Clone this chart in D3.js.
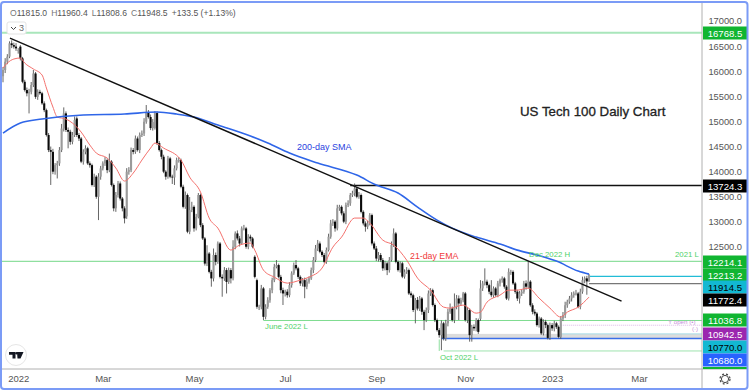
<!DOCTYPE html>
<html>
<head>
<meta charset="utf-8">
<script src="https://cdn.jsdelivr.net/npm/d3@7"></script>
<style>
  html, body { margin: 0; padding: 0; background: #fff; }
  svg { display: block; font-family: "Liberation Sans", sans-serif; }
  .tick line, .domain { display: none; }
</style>
</head>
<body>
<svg id="chart"></svg>
<script>
const width = 750;
const height = 390;

// Daily candles
const closes = [
  16024,16190,16290,16555,16520,16490,16455,16420,16255,15790,
  15625,15560,15590,15725,15955,15490,15590,15560,15360,15225,
  14730,14430,14395,14000,14130,14165,14430,14860,15160,14830,
  14795,14595,14730,15030,14730,14660,14200,14395,14465,14165,
  14130,13735,13900,13500,13900,14065,14165,14230,14030,14200,
  13735,13270,13535,13765,13465,13270,13070,14000,14030,14430,
  14395,14660,14430,14730,14760,14995,15187,15088,14868,14988,
  15167,14570,14430,14297,14000,13900,14264,13900,13885,14065,
  14230,14230,13700,13300,13535,12805,13235,13300,12870,13100,
  13535,12935,12670,12170,12370,12005,11875,12340,12205,12570,
  11905,11875,12040,11805,12040,11875,12505,12770,12670,12570,
  12870,12870,12505,12705,12670,12505,11905,11310,11310,11675,
  11110,11310,11440,11640,11840,12105,12140,11905,11640,11575,
  11610,11540,11740,11975,12140,12075,11905,11775,11840,11710,
  11810,11875,12040,12240,12470,12570,12405,12340,12205,12440,
  12705,12970,13005,12870,13270,13300,13170,13005,13335,13370,
  13535,13570,13665,13500,13535,13200,12970,12905,12970,13135,
  12570,12470,12270,12340,12240,12075,12175,12040,12240,12540,
  12770,12205,12040,12175,11910,12005,12040,11575,11540,11245,
  11445,11275,11475,11210,11045,11245,11575,11640,11345,11045,
  10845,10745,10980,10680,10980,11210,11275,11045,11310,11475,
  11375,11440,11575,11045,11245,10745,10910,10880,11045,10810,
  11675,11775,11810,11740,11610,11540,11675,11540,11775,11840,
  11875,11710,11475,12005,12005,11775,11610,11475,11575,11610,
  11775,11710,11810,11340,11210,11175,10945,11075,10780,11010,
  10945,10690,10945,10880,10980,10910,10710,11075,11145,11340,
  11410,11475,11540,11575,11575,11310,11610,11840,11875,11815,
  11948.5
];
const opens = [
  15900,16024,16190,16290,16555,16520,16490,16420,16490,16255,
  15790,15625,15560,15590,15725,15955,15490,15590,15560,15360,
  15225,14730,14430,14395,14000,14130,14165,14430,14860,15160,
  14830,14795,14595,14730,15060,14730,14660,14200,14395,14465,
  14165,14130,13735,13900,13500,13900,14065,14165,14230,14030,
  14200,13735,13270,13535,13765,13465,13270,13110,14000,14030,
  14430,14395,14660,14430,14730,14760,14995,15187,15088,14868,
  14868,15167,14570,14430,14297,14000,13900,14264,13900,13885,
  14065,14230,14230,13700,13300,13535,12805,13235,13300,12870,
  13100,13535,12935,12670,12170,12370,12005,11875,12340,12205,
  12570,11905,11875,12040,11805,12040,11875,12505,12770,12670,
  12570,12870,12870,12505,12705,12670,12305,11840,11310,11310,
  11675,11110,11310,11440,11640,11840,12105,12140,11905,11640,
  11575,11610,11540,11740,11975,12140,12075,11905,11775,11840,
  11710,11810,11875,12040,12240,12470,12570,12405,12340,12205,
  12440,12705,12970,13005,12870,13270,13300,13170,13005,13335,
  13370,13535,13570,13665,13500,13535,13200,12970,12905,12970,
  13135,12570,12470,12270,12340,12240,12075,12175,12040,12240,
  12540,12770,12205,12040,12175,11910,12005,12040,11575,11540,
  11245,11445,11275,11475,11210,11045,11245,11575,11640,11345,
  11045,10845,10745,10980,10680,10980,11210,11275,11045,11310,
  11475,11375,11440,11575,11045,11245,10745,10910,10880,11045,
  11070,11675,11775,11810,11740,11610,11540,11675,11540,11775,
  11840,11875,11710,11475,12005,12005,11775,11610,11475,11575,
  11610,11775,11710,11810,11340,11210,11175,10945,11075,10780,
  11010,10945,10690,10945,10880,10980,10910,10710,11075,11145,
  11340,11410,11475,11540,11575,11575,11310,11610,11840,11875,
  11815
];
const upperWicks = [
  60,70,50,40,60,50,70,40,30,30, 40,50,60,60,70,30,50,40,30,40,
  30,40,70,60,40,50,60,90,120,40, 50,40,60,70,40,40,30,50,60,30,
  40,30,60,30,70,50,40,60,30,160, 30,30,60,50,40,30,40,70,60,50,
  40,60,40,50,60,70,140,40,50,60, 40,30,40,30,40,30,50,30,40,60,
  50,60,30,40,70,30,260,100,30,60, 40,30,40,30,165,30,40,130,50,40,
  30,50,60,40,50,40,130,40,60,50, 40,70,30,50,40,30,30,30,40,70,
  30,50,60,40,50,60,100,30,40,50, 40,50,60,40,50,100,30,30,40,50,
  60,40,50,60,70,70,40,30,40,50, 60,70,50,30,70,40,30,40,50,60,
  40,50,100,30,60,30,30,40,50,40, 30,40,50,60,40,40,50,30,60,70,
  100,30,30,40,30,50,60,30,40,30, 40,60,50,30,40,50,60,40,30,30,
  30,40,60,30,70,60,100,40,265,70, 60,50,30,30,60,30,40,50,40,30,
  165,50,265,40,30,230,40,30,50,30, 40,30,30,70,40,30,30,40,50,40,
  50,60,405,30,40,50,30,40,30,50, 40,30,50,40,50,30,30,50,60,70,
  40,50,60,40,70,30,60,70,40,50, 12
];
const lowerWicks = [
  120,60,50,30,60,40,50,70,40,30, 30,60,400,50,40,40,60,30,30,40,
  30,40,660,50,60,265,50,40,60,40, 330,60,50,40,40,50,30,60,50,30,
  50,30,40,40,464,60,40,50,60,40, 30,60,70,50,40,60,100,50,60,40,
  50,40,30,60,40,50,40,30,40,50, 30,40,30,50,30,60,40,30,130,150,
  40,50,30,30,40,30,50,40,65,40, 30,40,30,40,50,30,165,60,70,40,
  30,365,50,230,40,100,40,50,40,60, 30,40,40,50,60,30,30,40,65,50,
  65,50,40,50,60,40,30,30,60,230, 60,50,40,50,30,40,40,50,60,230,
  50,40,30,60,40,50,30,40,30,40, 30,40,50,65,40,50,40,30,50,40,
  50,40,60,30,40,30,40,100,50,40, 40,30,50,60,40,50,40,100,50,30,
  40,30,30,50,30,40,40,30,50,40, 265,40,50,60,200,40,60,50,30,40,
  30,50,300,40,50,60,40,30,60,50, 330,50,40,30,60,130,130,50,60,40,
  40,50,40,60,50,40,50,30,40,60, 50,40,30,40,60,30,40,50,100,50,
  40,60,40,30,50,40,30,50,30,40, 60,30,40,50,60,40,30,40,50,60,
  50,40,60,50,40,30,50,40,60,265, 6
];

// 21-day EMA and 200-day SMA, sampled along the drawn lines
const emaDays = [0,2,5,8,10,14,18,20,23,25,29,32,36,40,43,48,52,56,60,64,68,70,74,82,86,91,95,99,105,109,114,116,120,125,131,137,141,147,152,156,162,166,169,175,180,186,191,197,203,206,212,218,220,223,229,233,237,242,247,252,257,260,265,270];
const emaValues = [16064,16163,16243,16263,16163,16044,15924,15665,15287,15088,15048,14968,14789,14530,14370,14271,14072,13813,13972,14231,14470,14570,14470,14231,13892,13594,13076,12876,12438,12538,12578,12438,12040,11900,11781,11841,11900,12080,12498,12697,13076,13076,12976,12637,12538,12239,11880,11641,11303,11283,11343,11183,11203,11402,11542,11641,11641,11681,11482,11283,11104,11203,11303,11502];
const smaDays = [0,8,18,37,56,71,80,88,99,114,122,132,145,163,172,182,191,200,207,218,229,237,246,255,265,270];
const smaValues = [14769,14968,15048,15128,15147,15187,15147,15088,14928,14709,14570,14370,14171,13932,13733,13574,13295,13036,12876,12697,12558,12438,12339,12219,12020,11960];

// Trend line end points: [day, price]
const trendDays = [3.2, 285];
const trendPrices = [16661, 11422];

// Axis ticks
const priceTicks = [17000,16500,16000,15500,15000,14500,14000,13500,13000,12500];
const timeTickDays = [7,46,88,130,172,213,253,293];
const timeTickLabels = ["2022","Mar","May","Jul","Sep","Nov","2023","Mar"];

const x = d3.scaleLinear().domain([0, 270]).range([3, 589]);
const y = d3.scaleLinear().domain([17000, 12500]).range([21, 247]);

const plotRight = 702;
const plotBottom = 369;

const svg = d3.select("#chart")
    .attr("width", width)
    .attr("height", height)
    .attr("viewBox", `0 0 ${width} ${height}`);

svg.append("defs").append("clipPath").attr("id", "plot")
    .append("rect").attr("x", 2).attr("y", 2).attr("width", plotRight - 2).attr("height", plotBottom - 2);

const plot = svg.append("g").attr("clip-path", "url(#plot)");

// Support / resistance levels
const levelDays = x.invert(plotRight);
const levels = [
    { from: -1, price: 16768.5, color: "#a9e6bb", w: 2 },
    { from: -1, price: 12214.1, color: "#8fdf9f", w: 1.2 },
    { from: 120, price: 11036.8, color: "#7fdc90", w: 1 },
    { from: 203, price: 10430, color: "#9fe3ae", w: 1 }
];

// grey zone between the two October levels
plot.append("rect")
    .attr("x", x(202))
    .attr("y", y(10770))
    .attr("width", plotRight - x(202))
    .attr("height", y(10680) - y(10770))
    .attr("fill", "#dcdcdc");

plot.selectAll(".level")
    .data(levels)
    .enter()
    .append("line")
    .attr("class", "level")
    .attr("x1", d => x(d.from))
    .attr("x2", x(levelDays))
    .attr("y1", d => y(d.price))
    .attr("y2", d => y(d.price))
    .attr("stroke", d => d.color)
    .attr("stroke-width", d => d.w);

// Short levels that start near the last bars
const shortLevels = [
    { from: 160, price: 13724.3, color: "#111", w: 1.4 },
    { from: 270, price: 11914.5, color: "#22bcd6", w: 1.4 },
    { from: 270, price: 11772.4, color: "#777", w: 1.2 },
    { from: 257, price: 10770, color: "#a8dce6", w: 1 },
    { from: 202, price: 10680, color: "#3a6ee8", w: 1.5 }
];
plot.selectAll(".short-level")
    .data(shortLevels)
    .enter()
    .append("line")
    .attr("class", "short-level")
    .attr("x1", d => x(d.from))
    .attr("x2", plotRight)
    .attr("y1", d => y(d.price))
    .attr("y2", d => y(d.price))
    .attr("stroke", d => d.color)
    .attr("stroke-width", d => d.w);

// Yearly open, dotted purple
plot.append("line")
    .attr("x1", x(257))
    .attr("x2", plotRight)
    .attr("y1", y(10942.5))
    .attr("y2", y(10942.5))
    .attr("stroke", "#dcb8e6")
    .attr("stroke-dasharray", "1 1");

// October low stub
plot.append("line")
    .attr("x1", x(201))
    .attr("x2", x(201))
    .attr("y1", y(10660))
    .attr("y2", y(10430))
    .attr("stroke", "#8fdf9f");

// Candles
const candles = closes.map((c, i) => ({
    i: i, open: opens[i], close: c,
    high: Math.max(opens[i], c) + upperWicks[i],
    low: Math.min(opens[i], c) - lowerWicks[i]
}));

plot.selectAll(".wick")
    .data(candles)
    .enter()
    .append("line")
    .attr("class", "wick")
    .attr("x1", d => x(d.i))
    .attr("x2", d => x(d.i))
    .attr("y1", d => y(d.high))
    .attr("y2", d => y(d.low))
    .attr("stroke", "#555")
    .attr("stroke-width", 0.9);

plot.selectAll(".body")
    .data(candles)
    .enter()
    .append("rect")
    .attr("class", "body")
    .attr("x", d => x(d.i) - 1.05)
    .attr("y", d => y(Math.max(d.open, d.close)))
    .attr("width", 2.1)
    .attr("height", d => Math.max(0.8, Math.abs(y(d.open) - y(d.close))))
    .attr("fill", d => d.close >= d.open ? "#9a9a9a" : "#0a0a0a");

// Moving averages
const line = d3.line().x(d => x(d[0])).y(d => y(d[1])).curve(d3.curveMonotoneX);

plot.append("path")
    .attr("d", line(d3.zip(emaDays, emaValues)))
    .attr("fill", "none")
    .attr("stroke", "#f4706c")
    .attr("stroke-width", 1);

plot.append("path")
    .attr("d", line(d3.zip(smaDays, smaValues)))
    .attr("fill", "none")
    .attr("stroke", "#2f66e8")
    .attr("stroke-width", 1.6);

plot.append("line")
    .attr("x1", x(trendDays[0]))
    .attr("y1", y(trendPrices[0]))
    .attr("x2", x(trendDays[1]))
    .attr("y2", y(trendPrices[1]))
    .attr("stroke", "#111")
    .attr("stroke-width", 1.4);

// Annotations
const notes = [
    { text: "US Tech 100 Daily Chart", x: 520, y: 116, color: "#222", size: 13.3, halo: 0.3 },
    { text: "200-day SMA", x: 297, y: 150, color: "#2a3fe0", size: 9 },
    { text: "21-day EMA", x: 410, y: 259, color: "#f03a3a", size: 8.8 },
    { text: "June 2022 L", x: 265, y: 329, color: "#4fd168", size: 7.8 },
    { text: "Oct 2022 L", x: 440, y: 360, color: "#4fd168", size: 7.8 },
    { text: "Dec 2022 H", x: 529, y: 257, color: "#4fd168", size: 7.8 },
    { text: "2021 L", x: 675, y: 257, color: "#4fd168", size: 7.8 },
    { text: "Y open (•)", x: 668, y: 324, color: "#c58fd8", size: 6.2 },
    { text: "(·)", x: 692, y: 331, color: "#c58fd8", size: 6.2 }
];
svg.selectAll(".note")
    .data(notes)
    .enter()
    .append("text")
    .attr("class", "note")
    .attr("x", d => d.x)
    .attr("y", d => d.y)
    .attr("fill", d => d.color)
    .attr("stroke", d => d.halo ? d.color : "none")
    .attr("stroke-width", d => d.halo || 0)
    .attr("font-size", d => d.size)
    .text(d => d.text);

// Axes
const yAxis = svg.append("g")
    .attr("transform", `translate(${plotRight},0)`)
    .call(d3.axisRight(y).tickValues(priceTicks).tickSize(0).tickFormat(d3.format(".1f")));
yAxis.selectAll("text")
    .attr("x", 40)
    .attr("text-anchor", "end")
    .attr("font-size", 9.3)
    .attr("fill", "#555");

const xAxis = svg.append("g")
    .attr("transform", `translate(0,${plotBottom})`)
    .call(d3.axisBottom(x).tickValues(timeTickDays).tickSize(0).tickPadding(6)
        .tickFormat((d, i) => timeTickLabels[i]));
xAxis.selectAll("text")
    .attr("font-size", 9.5)
    .attr("fill", "#555");

svg.append("line").attr("x1", plotRight).attr("x2", plotRight).attr("y1", 2).attr("y2", 388)
    .attr("stroke", "#b0b0b0").attr("stroke-width", 1);
svg.append("line").attr("x1", 2).attr("x2", 747).attr("y1", plotBottom).attr("y2", plotBottom)
    .attr("stroke", "#b0b0b0").attr("stroke-width", 1);

// Price tags on the right scale
const tagValues = ["16768.5","13724.3","12214.1","12213.2","11914.5","11772.4","11036.8","10942.5","10770.0","10680.0",""];
const tagCentres = [33,186,262,275,287,300,320,334,347,360,368];
const tagFills = ["#10b531","#000","#10b531","#10b531","#12b8d2","#000","#10b531","#9b27af","#12b8d2","#2962ff","#10b531"];
const tagInk = ["#fff","#fff","#fff","#fff","#000","#fff","#fff","#fff","#000","#fff","#fff"];

const tags = svg.append("g").selectAll("g")
    .data(tagValues)
    .enter()
    .append("g");
tags.append("rect")
    .attr("x", plotRight + 1)
    .attr("y", (d, i) => i === 10 ? 367 : tagCentres[i] - 6.5)
    .attr("width", 44)
    .attr("height", (d, i) => i === 10 ? 2 : 13)
    .attr("fill", (d, i) => tagFills[i]);
tags.append("text")
    .attr("x", plotRight + 23)
    .attr("y", (d, i) => tagCentres[i] + 3.5)
    .attr("text-anchor", "middle")
    .attr("font-size", 9.6)
    .attr("fill", (d, i) => tagInk[i])
    .text(d => d);

// OHLC header
const ohlcKeys = ["O", "H", "L", "C"];
const ohlcValues = ["11815.0", "11960.4", "11808.6", "11948.5"];
const header = svg.append("text").attr("x", 10).attr("y", 16).attr("font-size", 8.6).attr("fill", "#555");
ohlcKeys.forEach((k, i) => {
    header.append("tspan").attr("dx", i ? 4 : 0).attr("fill", "#777").text(k);
    header.append("tspan").text(ohlcValues[i]);
});
header.append("tspan").attr("dx", 4).text("+133.5 (+1.13%)");

// Collapse button
svg.append("rect").attr("x", 7).attr("y", 22).attr("width", 19).attr("height", 12).attr("rx", 2)
    .attr("fill", "#fff").attr("stroke", "#e3e3e3");
svg.append("path").attr("d", "M11 27l2.5 2.5 2.5-2.5").attr("fill", "none").attr("stroke", "#444");
svg.append("text").attr("x", 19).attr("y", 31).attr("font-size", 9).attr("fill", "#666").text("3");

// TradingView badge
svg.append("circle").attr("cx", 16).attr("cy", 355).attr("r", 10.5).attr("fill", "#fff").attr("stroke", "#e6e6e6");
svg.append("path").attr("d", "M9 352h6.5v6.5h-3v-3.7H9zM17 352h6.5l-3 6.5h-3z").attr("fill", "#131722");
svg.append("circle").attr("cx", 16.6).attr("cy", 353.3).attr("r", 1.3).attr("fill", "#131722");

// Settings gear
svg.append("circle").attr("cx", 725).attr("cy", 379).attr("r", 3.6).attr("fill", "#fff").attr("stroke", "#444").attr("stroke-width", 1);
svg.append("circle").attr("cx", 725).attr("cy", 379).attr("r", 5).attr("fill", "none").attr("stroke", "#444").attr("stroke-width", 1.2).attr("stroke-dasharray", "2 2");

// Outer frame
svg.append("rect").attr("x", 1).attr("y", 2).attr("width", 746.5).attr("height", 387).attr("rx", 3)
    .attr("fill", "none").attr("stroke", "#7b9bf6").attr("stroke-width", 2);
</script>
</body>
</html>
